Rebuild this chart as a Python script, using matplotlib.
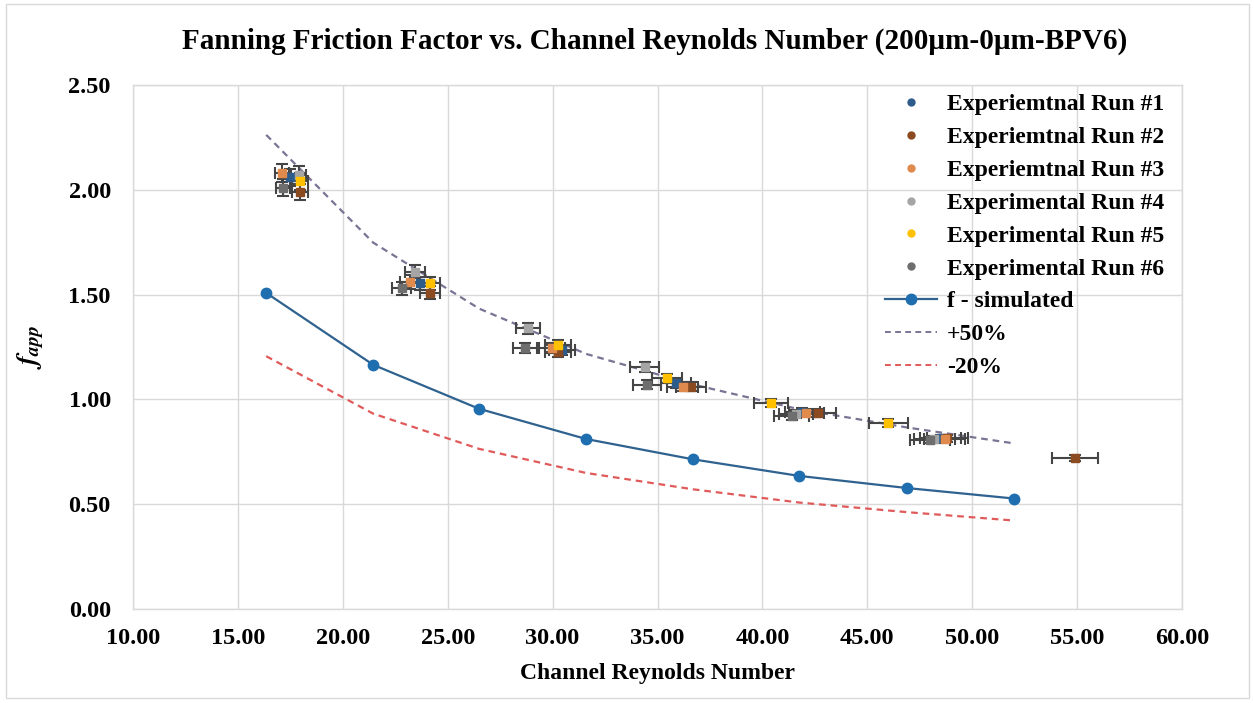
import matplotlib
matplotlib.use("Agg")
import matplotlib.pyplot as plt
from matplotlib.lines import Line2D
from matplotlib.patches import Rectangle

# ---- data -----------------------------------------------------------------
run_labels = [
    "Experiemtnal Run #1",
    "Experiemtnal Run #2",
    "Experiemtnal Run #3",
    "Experimental Run #4",
    "Experimental Run #5",
    "Experimental Run #6",
]

run1_re = [17.5, 23.7, 30.45, 35.9, 41.9, 48.5]
run1_f = [2.06, 1.555, 1.236, 1.078, 0.940, 0.815]

run2_re = [17.96, 24.15, 30.26, 36.6, 42.65, 48.8, 54.9]
run2_f = [1.99, 1.51, 1.226, 1.060, 0.935, 0.815, 0.720]

run3_re = [17.1, 23.2, 29.97, 36.2, 42.1, 48.7]
run3_f = [2.08, 1.56, 1.245, 1.060, 0.935, 0.810]

run4_re = [17.9, 23.44, 28.83, 34.4, 41.6, 48.2]
run4_f = [2.07, 1.61, 1.340, 1.155, 0.930, 0.810]

run5_re = [17.96, 24.15, 30.26, 35.45, 40.41, 46.0]
run5_f = [2.04, 1.555, 1.260, 1.100, 0.983, 0.887]

run6_re = [17.15, 22.8, 28.7, 34.5, 41.4, 48.0]
run6_f = [2.01, 1.53, 1.245, 1.070, 0.920, 0.806]

# relative measurement uncertainty on Re and f
re_uncertainty = 0.02
f_uncertainty = 0.02

sim_re = [16.35, 21.45, 26.5, 31.6, 36.7, 41.75, 46.9, 52.0]
sim_f = [1.508, 1.165, 0.955, 0.811, 0.714, 0.635, 0.577, 0.527]
plus50_f = [2.262, 1.748, 1.433, 1.217, 1.071, 0.953, 0.866, 0.790]
minus20_f = [1.206, 0.932, 0.764, 0.649, 0.571, 0.508, 0.462, 0.422]

x_ticks = [10, 15, 20, 25, 30, 35, 40, 45, 50, 55, 60]
y_ticks = [0.0, 0.5, 1.0, 1.5, 2.0, 2.5]

# ---- style ----------------------------------------------------------------
serif = ["Liberation Serif", "DejaVu Serif"]
plt.rcParams["font.family"] = serif
plt.rcParams["font.weight"] = "bold"
plt.rcParams["mathtext.fontset"] = "stix"

run_colors = ["#2E5C8A", "#8B4A1F", "#E08A4E", "#A5A5A5", "#FFC000", "#6E6E6E"]
err_color = "#454545"
sim_color = "#1F6EB0"
sim_line = "#2F628F"
plus_color = "#7B7394"
minus_color = "#E05A5A"
grid_color = "#D9D9D9"

fig = plt.figure(figsize=(12.54, 7.03), dpi=100)
ax = fig.add_axes([133 / 1254, 1 - 609 / 703, (1182 - 133) / 1254, (609 - 85) / 703])

# bounding frame of the chart area
fig.patches.append(Rectangle((6 / 1254, 1 - 698 / 703), 1243 / 1254, 694 / 703,
                             transform=fig.transFigure, fill=False,
                             edgecolor=grid_color, lw=1.0))

# ---- bands and simulation -------------------------------------------------
ax.plot(sim_re, minus20_f, color=minus_color, lw=1.6, dashes=(3, 2.2), zorder=2)
ax.plot(sim_re, plus50_f, color=plus_color, lw=1.6, dashes=(3, 2.2), zorder=2)
ax.plot(sim_re, sim_f, color=sim_line, lw=1.6, marker="o", markersize=7.5,
        markerfacecolor=sim_color, markeredgecolor=sim_color, zorder=3)

# ---- experimental runs with error bars ------------------------------------
runs = [(run1_re, run1_f), (run2_re, run2_f), (run3_re, run3_f),
        (run4_re, run4_f), (run5_re, run5_f), (run6_re, run6_f)]
for (re_vals, f_vals), col in zip(runs, run_colors):
    xerr = [r * re_uncertainty for r in re_vals]
    yerr = [f * f_uncertainty for f in f_vals]
    ax.errorbar(re_vals, f_vals, xerr=xerr, yerr=yerr, fmt="s", markersize=5.5,
                color=col, markerfacecolor=col, markeredgecolor=col,
                ecolor=err_color, elinewidth=1.5, capsize=4.5, capthick=1.5,
                zorder=4)

# ---- axes -----------------------------------------------------------------
ax.set_xlim(10, 60)
ax.set_ylim(0, 2.5)
ax.set_xticks(x_ticks)
ax.set_yticks(y_ticks)
ax.set_xticklabels([f"{v:.2f}" for v in x_ticks])
ax.set_yticklabels([f"{v:.2f}" for v in y_ticks])
ax.tick_params(axis="both", length=0, labelsize=17.5)
ax.tick_params(axis="x", pad=14)
ax.tick_params(axis="y", pad=16)
for lab in ax.get_xticklabels() + ax.get_yticklabels():
    lab.set_fontweight("bold")
ax.grid(True, color=grid_color, lw=1.0)
ax.set_axisbelow(True)
for sp in ax.spines.values():
    sp.set_color(grid_color)
    sp.set_linewidth(1.0)

ax.set_xlabel("Channel Reynolds Number", fontsize=17, fontweight="bold", labelpad=10)
ax.set_ylabel(r"$f_{app}$", fontsize=20, labelpad=16, rotation=90)

fig.text(0.522, 0.941, "Fanning Friction Factor vs. Channel Reynolds Number (200\u00b5m-0\u00b5m-BPV6)",
         ha="center", va="center", fontsize=21, fontweight="bold")

# ---- legend ---------------------------------------------------------------
handles = [Line2D([], [], ls="none", marker="o", markersize=5, color=c) for c in run_colors]
handles += [
    Line2D([], [], color=sim_line, lw=1.6, marker="o", markersize=7.5,
           markerfacecolor=sim_color, markeredgecolor=sim_color),
    Line2D([], [], color=plus_color, lw=1.4, dashes=(3, 2.2)),
    Line2D([], [], color=minus_color, lw=1.4, dashes=(3, 2.2)),
]
labels = run_labels + ["f - simulated", "+50%", "-20%"]
ax.legend(handles, labels, loc="upper left", bbox_to_anchor=(0.709, 1.0),
          frameon=False, prop={"family": serif, "weight": "bold", "size": 17},
          labelspacing=0.48, handlelength=2.2, handletextpad=0.4,
          borderaxespad=0.0, borderpad=0.37)

fig.savefig("out.png", dpi=100)
